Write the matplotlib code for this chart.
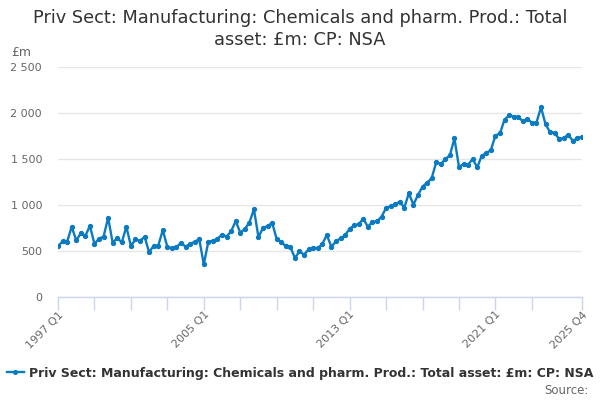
import matplotlib
matplotlib.use("Agg")
import matplotlib.pyplot as plt
from matplotlib.lines import Line2D
from matplotlib.ticker import FuncFormatter

quarters = [f"{y} Q{q}" for y in range(1997, 2026) for q in range(1, 5)]
values = [
    551, 605, 601, 764, 616, 692, 663, 775, 576, 634,
    656, 862, 590, 641, 594, 764, 554, 627, 609, 656,
    486, 558, 558, 728, 543, 529, 543, 590, 547, 578,
    600, 628, 355, 603, 609, 634, 678, 656, 714, 826,
    699, 739, 808, 953, 649, 754, 768, 808, 627, 598,
    551, 543, 424, 496, 460, 518, 536, 529, 576, 674,
    545, 606, 636, 672, 741, 779, 790, 851, 764, 815,
    822, 873, 967, 989, 1007, 1036, 971, 1127, 1004, 1109,
    1199, 1243, 1290, 1464, 1446, 1498, 1540, 1723, 1415, 1444,
    1438, 1500, 1409, 1536, 1562, 1598, 1754, 1779, 1928, 1975,
    1960, 1960, 1909, 1935, 1895, 1895, 2062, 1877, 1790, 1783,
    1717, 1728, 1764, 1696, 1728, 1743,
]
tick_labels = ["1997 Q1", "2005 Q1", "2013 Q1", "2021 Q1", "2025 Q4"]
title = "Priv Sect: Manufacturing: Chemicals and pharm. Prod.: Total\nasset: £m: CP: NSA"
series_name = "Priv Sect: Manufacturing: Chemicals and pharm. Prod.: Total asset: £m: CP: NSA"

color = "#0b7bc1"
fig = plt.figure(figsize=(6, 4), dpi=100)
ax = fig.add_axes([58 / 600, 1 - 297 / 400, (582 - 58) / 600, (297 - 67) / 400])

x = list(range(len(values)))
ax.plot(x, values, color=color, lw=1.7, marker="o", ms=2.8, zorder=3)

ax.set_xlim(0, len(values) - 1)
ax.set_ylim(0, 2500)
ax.set_yticks([0, 500, 1000, 1500, 2000, 2500])
ax.yaxis.set_major_formatter(FuncFormatter(lambda v, p: f"{int(v):,}".replace(",", " ")))
ax.grid(axis="y", color="#e6e6e6", lw=1)
ax.set_axisbelow(True)

tick_pos = list(range(0, len(values) - 8, 8)) + [len(values) - 1]
ax.set_xticks(tick_pos)
lab_idx = {quarters.index(t): t for t in tick_labels}
ax.set_xticklabels([lab_idx.get(p, "") for p in tick_pos], rotation=45, ha="right",
                   rotation_mode="anchor", color="#666666", fontsize=8)
ax.tick_params(axis="x", length=9, color="#ccd6eb", width=1, pad=0)
ax.tick_params(axis="y", length=0, labelcolor="#666666", labelsize=8, pad=11.5)

for s in ["top", "right", "left"]:
    ax.spines[s].set_visible(False)
ax.spines["bottom"].set_color("#ccd6eb")
ax.spines["bottom"].set_linewidth(1)

fig.text(0.5, 1 - 29 / 400, title, ha="center", va="center", fontsize=12.8, color="#333333",
         linespacing=1.25)
fig.text(11 / 600, 1 - 53 / 400, "£m", ha="left", va="center", fontsize=9, color="#666666")

h = Line2D([0], [0], color=color, lw=1.7, marker="o", ms=2.6)
fig.legend([h], [series_name], loc="center", bbox_to_anchor=(0.5, 1 - 373 / 400),
           frameon=False, prop={"weight": "bold", "size": 9.0}, handlelength=1.4,
           handletextpad=0.4, labelcolor="#333333")
fig.text(589 / 600, 1 - 390 / 400, "Source:", ha="right", va="center", fontsize=8.5,
         color="#666666")

fig.savefig("out.png", dpi=100)
